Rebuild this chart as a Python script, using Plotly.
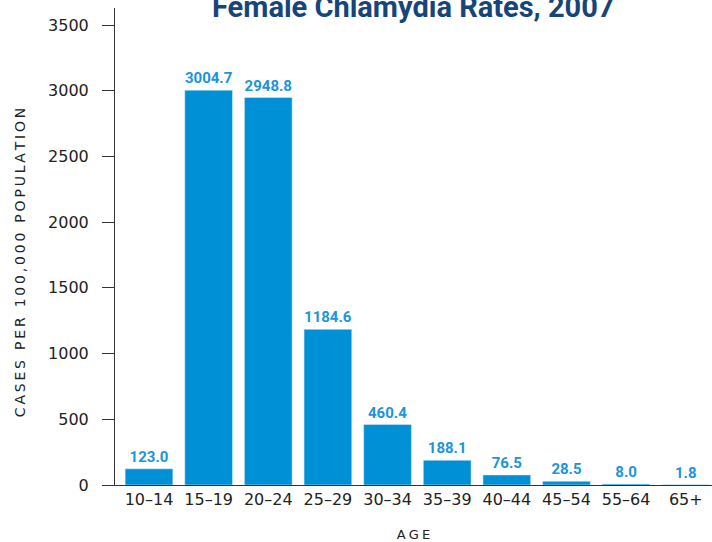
import plotly.graph_objects as go

# Taxa de clamídia feminina por idade, 2007
faixas = ["10–14", "15–19", "20–24", "25–29", "30–34",
          "35–39", "40–44", "45–54", "55–64", "65+"]
taxas = [123.0, 3004.7, 2948.8, 1184.6, 460.4, 188.1, 76.5, 28.5, 8.0, 1.8]
y_ticks = [0, 500, 1000, 1500, 2000, 2500, 3000, 3500]


def espacar(s, sep="\u2009"):
    return sep.join(list(s))


fig = go.Figure(go.Bar(
    x=faixas,
    y=taxas,
    marker_color="#0090d5",
    width=0.8,
    text=[f"<b>{v:.1f}</b>" for v in taxas],
    textposition="outside",
    textfont=dict(family="Roboto", size=15, color="#1a94dc"),
    cliponaxis=False,
))

fig.update_layout(
    width=712, height=542,
    margin=dict(l=115, r=0, t=8, b=57, autoexpand=False),
    plot_bgcolor="white",
    paper_bgcolor="white",
    showlegend=False,
    font=dict(family="DejaVu Sans", color="#222"),
    annotations=[
        dict(text="<b>Female Chlamydia Rates, 2007</b>",
             xref="paper", yref="paper", x=0.5, y=1.0, yshift=1,
             xanchor="center", yanchor="middle", showarrow=False,
             font=dict(family="Roboto", size=29, color="#17457a")),
        # titulo do eixo y como anotacao para posicionar melhor
        dict(text=espacar("CASES PER 100,000 POPULATION"),
             xref="paper", yref="paper", x=0, y=0.465, xshift=-95,
             xanchor="center", yanchor="middle", textangle=-90,
             showarrow=False, font=dict(size=14, color="#222")),
    ],
)

fig.update_yaxes(
    range=[0, 3630],
    tickvals=y_ticks,
    showgrid=False,
    zeroline=False,
    showline=True, linecolor="#333", linewidth=1,
    ticks="outside", ticklen=12, tickcolor="#333",
    ticklabelstandoff=10,
    tickfont=dict(size=16, color="#222"),
    automargin=False,
)
fig.update_xaxes(
    range=[-0.57, 9.44],
    showgrid=False,
    showline=True, linecolor="#333", linewidth=1,
    ticks="",
    automargin=False,
    tickfont=dict(size=16, color="#222"),
    title=dict(text=espacar("AGE", "\u2005"),
               font=dict(size=13, color="#222"), standoff=22),
)

fig.write_html("out.html", config={"displayModeBar": False},
               post_script="document.body.style.margin='0';")
